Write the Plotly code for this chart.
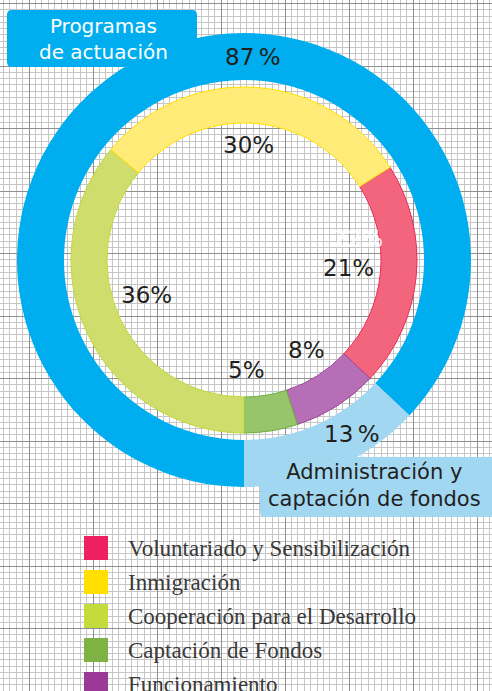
import plotly.graph_objects as go

W, H = 492, 691

# Outer ring: programmes vs administration
outer_labels = ['Programas de actuación', 'Administración y captación de fondos']
outer_values = [87, 13]
outer_colors = ['#00AEEF', '#A2D7F2']

# Inner ring: breakdown (clockwise from the red slice)
inner_labels = ['Voluntariado y Sensibilización', 'Funcionamiento', 'Captación de Fondos',
                'Cooperación para el Desarrollo', 'Inmigración']
inner_values = [21, 8, 5, 36, 30]
inner_fill = ['#F2657C', '#B66FB6', '#96C56C', '#CEDD6C', '#FFEB78']
inner_edge = ['#EC2A5C', '#9B4A9B', '#6FAF3F', '#C2D83A', '#FFE000']

# Legend order as printed
legend_labels = ['Voluntariado y Sensibilización', 'Inmigración', 'Cooperación para el Desarrollo',
                 'Captación de Fondos', 'Funcionamiento']
legend_colors = ['#EE2062', '#FFE000', '#C5DA3C', '#7CB342', '#9B3A96']

# where each percentage label sits (pixel coords)
inner_label_pos = {'Voluntariado y Sensibilización': (348, 268), 'Funcionamiento': (306, 350),
                   'Captación de Fondos': (246, 370), 'Cooperación para el Desarrollo': (146, 295),
                   'Inmigración': (248, 145)}
outer_label_pos = {'Programas de actuación': (253, 57),
                   'Administración y captación de fondos': (352, 434)}

cx, cy = 244, 260
SANS = 'DejaVu Sans'


def dom(r):
    return dict(x=[(cx - r) / W, (cx + r) / W], y=[1 - (cy + r) / H, 1 - (cy - r) / H])


fig = go.Figure()

fig.add_trace(go.Pie(labels=outer_labels, values=outer_values, sort=False, direction='clockwise',
                     rotation=180, hole=180 / 227, domain=dom(227),
                     marker=dict(colors=outer_colors, line=dict(width=0)),
                     textinfo='none', hoverinfo='skip', showlegend=False))

fig.add_trace(go.Pie(labels=inner_labels, values=inner_values, sort=False, direction='clockwise',
                     rotation=57.6, hole=137 / 173, domain=dom(173),
                     marker=dict(colors=inner_fill, line=dict(color=inner_edge, width=1)),
                     textinfo='none', hoverinfo='skip', showlegend=False))

# legend swatches
legend_y = [548 + 34 * i for i in range(len(legend_labels))]
fig.add_trace(go.Scatter(x=[96] * len(legend_labels), y=legend_y, mode='markers',
                         marker=dict(symbol='square', size=24, color=legend_colors),
                         hoverinfo='skip', showlegend=False))

annotations = []
pct_font = dict(family=SANS, size=23, color='#231F20')
for lab, v in zip(inner_labels, inner_values):
    x, y = inner_label_pos[lab]
    annotations.append(dict(x=x, y=y, text=f'{v}%', showarrow=False, font=pct_font))
for lab, v in zip(outer_labels, outer_values):
    x, y = outer_label_pos[lab]
    annotations.append(dict(x=x, y=y, text=f'{v}\u2009%', showarrow=False, font=pct_font))
# misregistered print ghost
annotations.append(dict(x=357, y=239, text='22%', showarrow=False,
                        font=dict(family=SANS, size=23, color='rgba(255,255,255,0.85)')))

for lab, y in zip(legend_labels, legend_y):
    annotations.append(dict(x=126, y=y, text=lab, xanchor='left', showarrow=False,
                            font=dict(family='Liberation Serif', size=23, color='#3a3a3a')))

annotations.append(dict(x=103, y=39, text='Programas<br>de actuación', showarrow=False,
                        font=dict(family=SANS, size=20, color='white')))
annotations.append(dict(x=374, y=485, text='Administración y<br>captación de fondos', showarrow=False,
                        font=dict(family=SANS, size=21, color='#231F20')))


def rrect(x0, y0, x1, y1, r):
    return (f'M{x0 + r},{y0} L{x1 - r},{y0} Q{x1},{y0} {x1},{y0 + r} L{x1},{y1 - r} '
            f'Q{x1},{y1} {x1 - r},{y1} L{x0 + r},{y1} Q{x0},{y1} {x0},{y1 - r} '
            f'L{x0},{y0 + r} Q{x0},{y0} {x0 + r},{y0} Z')


shapes = [
    dict(type='path', path=rrect(7, 10, 197, 67, 5), fillcolor='#00AEEF', line=dict(width=0),
         xref='x', yref='y', layer='above'),
    dict(type='path', path=rrect(260, 457, 500, 517, 5), fillcolor='#A2D7F2', line=dict(width=0),
         xref='x', yref='y', layer='above'),
]

fig.update_layout(
    width=W, height=H,
    margin=dict(l=0, r=0, t=0, b=0),
    paper_bgcolor='white', plot_bgcolor='white',
    annotations=annotations, shapes=shapes,
    xaxis=dict(range=[0, W], showticklabels=False, zeroline=False, ticks='',
               tick0=29, dtick=64, showgrid=True, gridcolor='#8f8f8f', gridwidth=1,
               minor=dict(tick0=29, dtick=6.4, showgrid=True, gridcolor='#c6c6c6', gridwidth=1.4)),
    yaxis=dict(range=[H, 0], showticklabels=False, zeroline=False, ticks='',
               tick0=3.5, dtick=62.5, showgrid=True, gridcolor='#8f8f8f', gridwidth=1,
               minor=dict(tick0=3.5, dtick=6.25, showgrid=True, gridcolor='#c6c6c6', gridwidth=1.4)),
)

fig.write_html('out.html', config={'displayModeBar': False},
               post_script="document.body.style.margin='0';")
